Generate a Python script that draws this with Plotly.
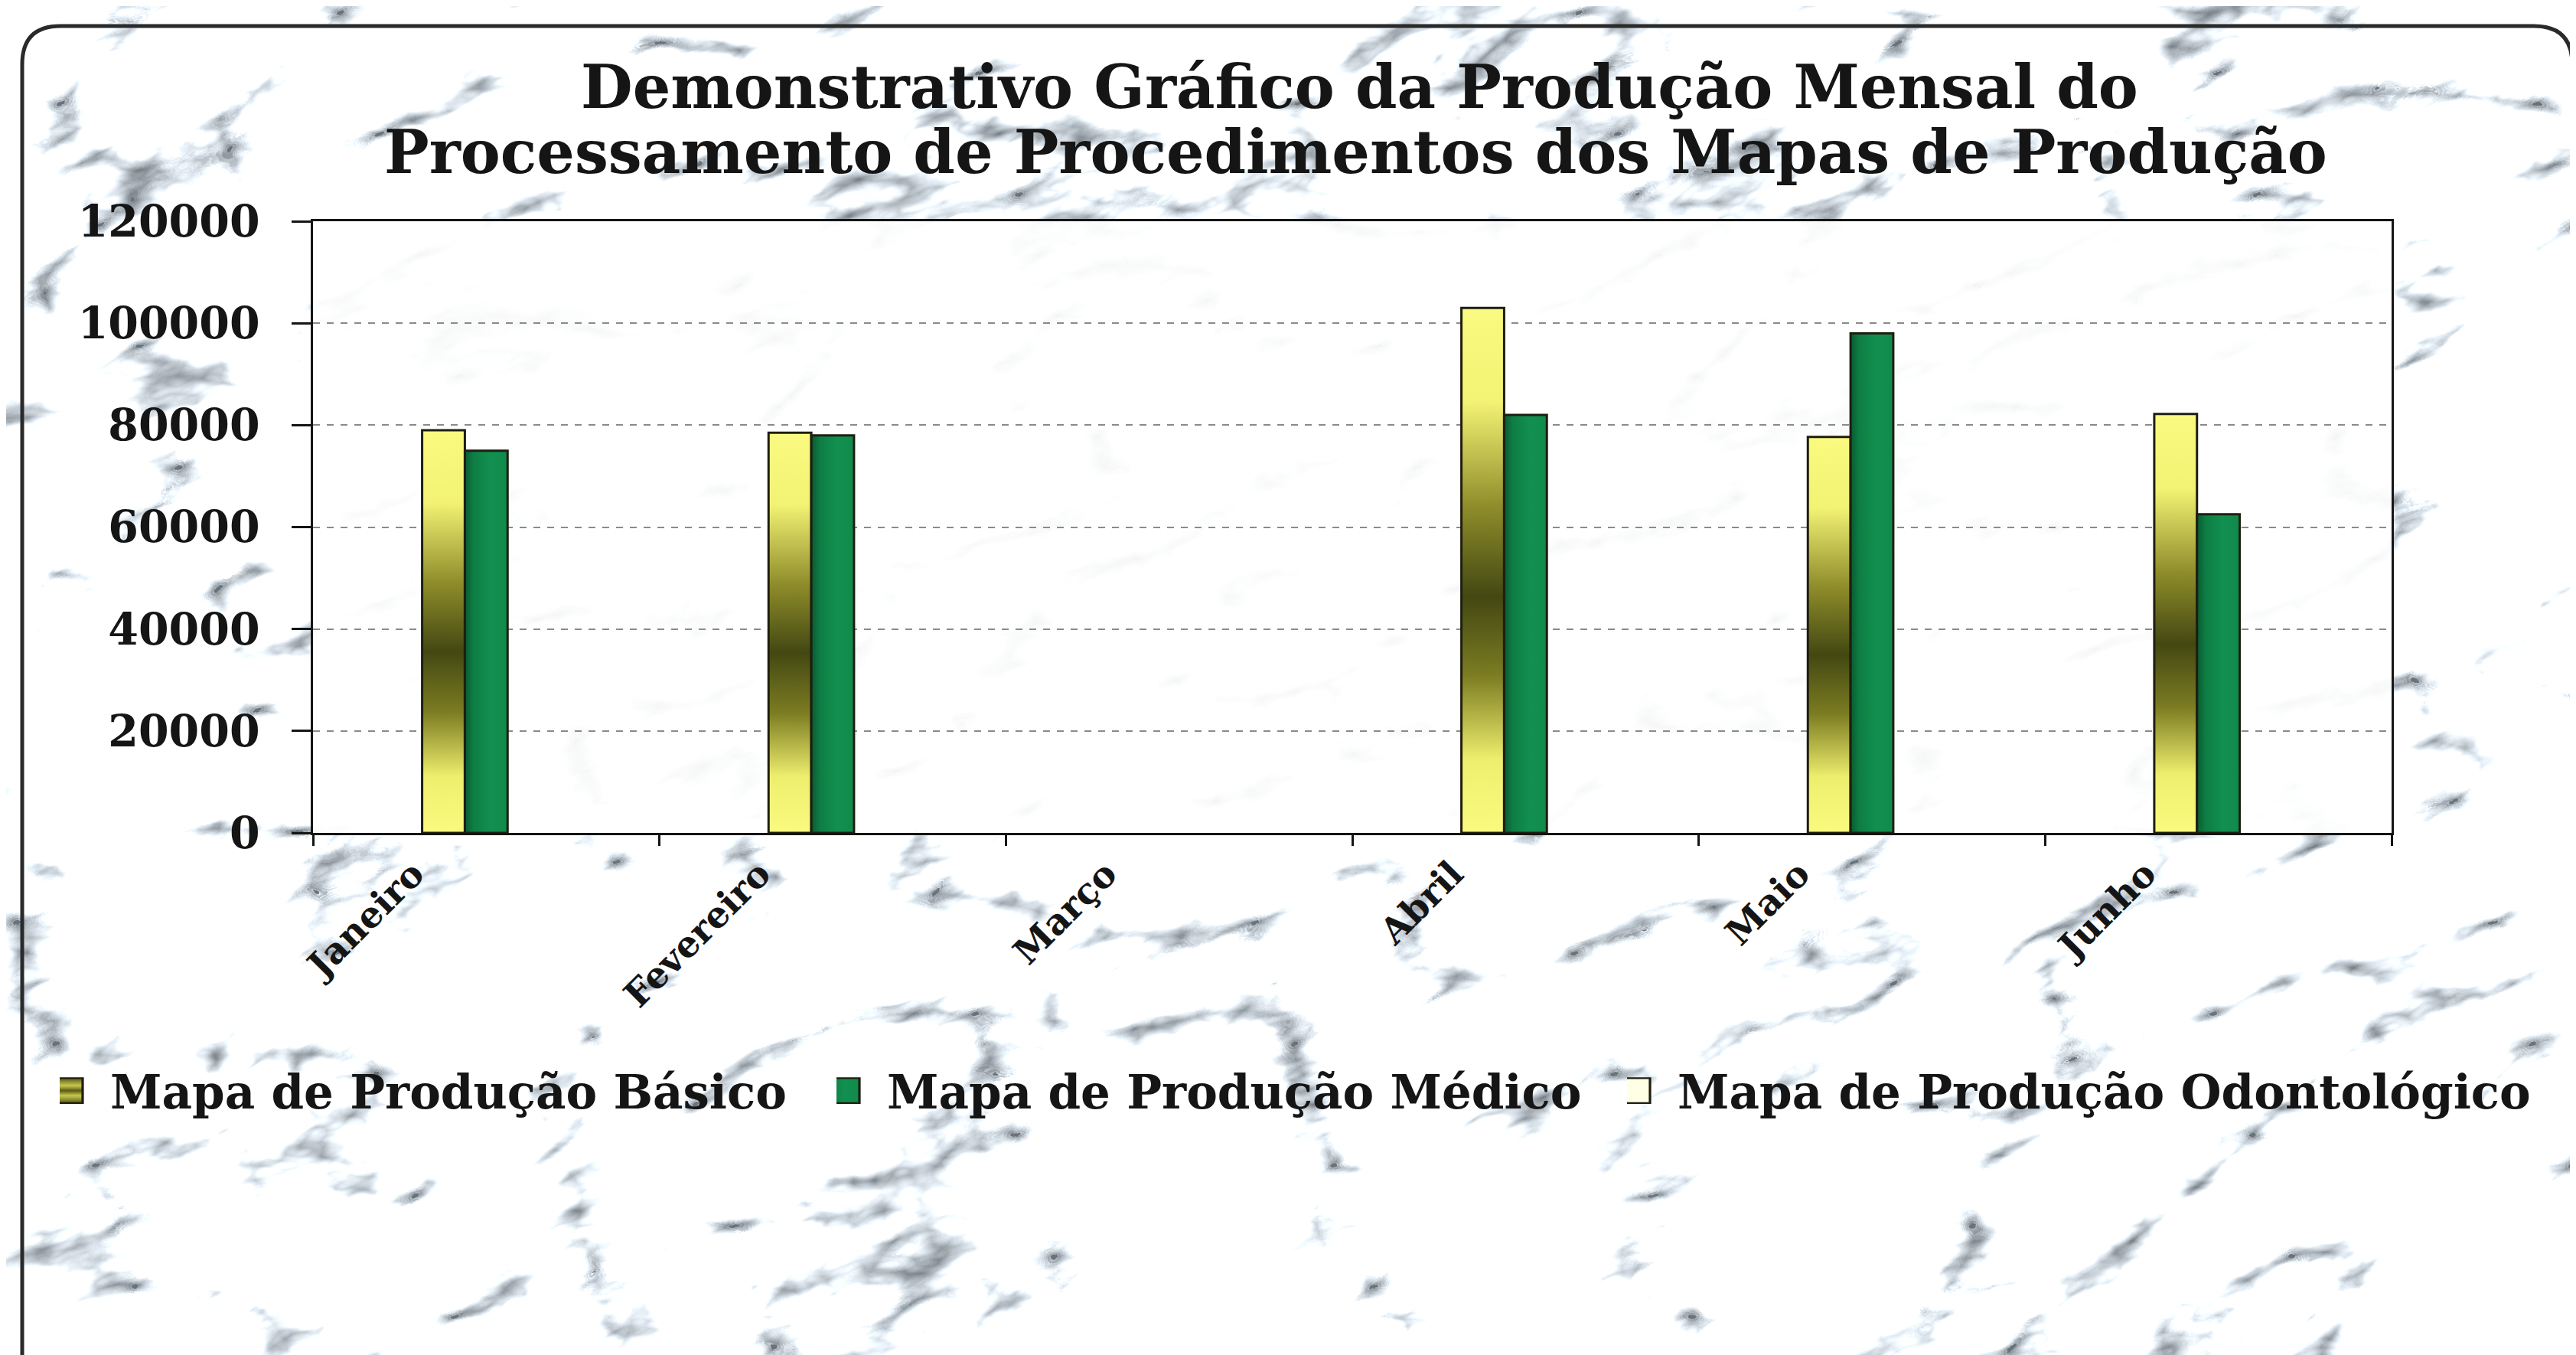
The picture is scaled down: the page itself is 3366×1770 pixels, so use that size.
import base64
import plotly.graph_objects as go

# ---------------- data ----------------
months = ["Janeiro", "Fevereiro", "Março", "Abril", "Maio", "Junho"]
basico = [79000, 78500, None, 103000, 77700, 82200]
medico = [75000, 78000, None, 82000, 98000, 62500]
odontologico = [None, None, None, None, None, None]
series_names = ["Mapa de Produção Básico", "Mapa de Produção Médico",
                "Mapa de Produção Odontológico"]
title_lines = ["Demonstrativo Gráfico da Produção Mensal do",
               "Processamento de Procedimentos dos Mapas de Produção"]
y_ticks = [0, 20000, 40000, 60000, 80000, 100000, 120000]
y_tick_labels = ["0", "20000", "40000", "60000", "80000", "100000", "120000"]

W, H = 3366, 1770
ML, MR, MT, MB = 401, 249, 281, 690
PW, PH = W - ML - MR, H - MT - MB

def xp(px):
    return (px - ML) / PW

def yp(py):
    return (H - MB - py) / PH

SERIF = "DejaVu Serif"
INK = "#151515"
EDGE = "#1e1e10"

fig = go.Figure()
fig.add_trace(go.Bar(name=series_names[0], x=months, y=basico, legend="legend",
                     marker=dict(color="#8a8a2a", line=dict(color=EDGE, width=3))))
fig.add_trace(go.Bar(name=series_names[1], x=months, y=medico, legend="legend2",
                     marker=dict(color="#10884a", line=dict(color=EDGE, width=3))))
fig.add_trace(go.Bar(name=series_names[2], x=months, y=odontologico, legend="legend3",
                     marker=dict(color="#ffffe6", line=dict(color=EDGE, width=3))))

# marble-like background texture (decorative)
marble_svg = f"""<svg xmlns='http://www.w3.org/2000/svg' width='{W}' height='{H}'>
<filter id='m' filterUnits='userSpaceOnUse' x='-2000' y='-2000' width='{W+4000}' height='{H+4000}' color-interpolation-filters='sRGB'>
<feTurbulence type='turbulence' baseFrequency='0.0026 0.0060' numOctaves='5' seed='41'/>
<feColorMatrix type='matrix' values='3.3 0 0 0 0.42  3.3 0 0 0 0.45  3.3 0 0 0 0.48  0 0 0 0 1'/>
</filter>
<rect width='100%' height='100%' fill='#ffffff'/>
<g transform='rotate(-18 {W/2} {H/2})'>
<rect x='-1500' y='-1500' width='{W+3000}' height='{H+3000}' filter='url(#m)'/>
</g>
</svg>"""
marble_uri = "data:image/svg+xml;base64," + base64.b64encode(marble_svg.encode()).decode()

fig.add_layout_image(dict(source=marble_uri, xref="paper", yref="paper",
                          x=xp(0), y=yp(0), sizex=W / PW, sizey=H / PH,
                          xanchor="left", yanchor="top", sizing="stretch",
                          layer="below", opacity=1))

# whitish plot-area wash over the marble
fig.add_shape(type="rect", xref="paper", yref="paper", x0=0, x1=1, y0=0, y1=1,
              fillcolor="rgba(255,255,255,0.93)", line=dict(width=0), layer="below")

# rounded outer frame
L, T, R, B, r = 21, 26, 3353, 1830, 50
path = (f"M {xp(L)} {yp(T + r)} "
        f"Q {xp(L)} {yp(T)} {xp(L + r)} {yp(T)} "
        f"L {xp(R - r)} {yp(T)} "
        f"Q {xp(R)} {yp(T)} {xp(R)} {yp(T + r)} "
        f"L {xp(R)} {yp(B)} L {xp(L)} {yp(B)} Z")
fig.add_shape(type="path", path=path, xref="paper", yref="paper",
              line=dict(color="#2a2a2a", width=5), fillcolor="rgba(0,0,0,0)", layer="above")

# two-line title as annotations (tight line spacing like the original)
for txt, cx, cy in [(title_lines[0], 1768, 105), (title_lines[1], 1763, 191)]:
    fig.add_annotation(text=txt, xref="paper", yref="paper", x=xp(cx), y=yp(cy),
                       xanchor="center", yanchor="middle", showarrow=False,
                       font=dict(family=SERIF, size=78, color=INK, weight="bold"))

legend_font = dict(family=SERIF, size=61, color=INK, weight="bold")
leg_common = dict(orientation="h", xanchor="left", yanchor="middle", y=yp(1417),
                  font=legend_font, bgcolor="rgba(0,0,0,0)", itemwidth=56,
                  borderwidth=0)

fig.update_layout(
    width=W, height=H,
    margin=dict(l=ML, r=MR, t=MT, b=MB),
    paper_bgcolor="#ffffff",
    plot_bgcolor="rgba(0,0,0,0)",
    barmode="group", bargap=0.63, bargroupgap=0,
    legend=dict(x=xp(70), **leg_common),
    legend2=dict(x=xp(1085), **leg_common),
    legend3=dict(x=xp(2118), **leg_common),
    showlegend=True,
)
fig.update_xaxes(type="category", tickson="boundaries", ticks="outside", ticklen=14,
                 tickwidth=3, tickcolor=INK, showline=True, linecolor=INK, linewidth=3,
                 mirror=True, tickangle=-45, ticklabelshift=-95, ticklabelstandoff=4,
                 tickfont=dict(family=SERIF, size=47, color=INK, weight="bold"),
                 showgrid=False)
fig.update_yaxes(range=[0, 120000], tickvals=y_ticks, ticktext=y_tick_labels,
                 ticks="outside", ticklen=25,
                 tickwidth=3, tickcolor=INK, showline=True, linecolor=INK, linewidth=3,
                 mirror=True, ticklabelstandoff=30,
                 tickfont=dict(family=SERIF, size=57, color=INK, weight="bold"),
                 showgrid=True, gridcolor="#8a8a8a", gridwidth=2, griddash="dash",
                 zeroline=False)

post = """
var gd = document.getElementById('{plot_id}');
function addGrad(defs, id, vertical, stops){
  var ns='http://www.w3.org/2000/svg';
  if (document.getElementById(id)) return;
  var lg=document.createElementNS(ns,'linearGradient');
  lg.setAttribute('id',id);
  lg.setAttribute('x1','0'); lg.setAttribute('y1','0');
  lg.setAttribute('x2', vertical ? '0' : '1'); lg.setAttribute('y2', vertical ? '1' : '0');
  stops.forEach(function(s){
    var st=document.createElementNS(ns,'stop');
    st.setAttribute('offset', s[0]); st.setAttribute('stop-color', s[1]);
    lg.appendChild(st);
  });
  defs.appendChild(lg);
}
function applyGrad(){
  var svg = gd.querySelector('svg.main-svg');
  var defs = svg.querySelector('defs');
  addGrad(defs,'gradBasico',true,[[0,'#fafa80'],[0.18,'#f2f274'],[0.38,'#8e8c2a'],[0.55,'#434812'],
                                   [0.7,'#7c7c22'],[0.86,'#eeee6e'],[1,'#fafa80']]);
  addGrad(defs,'gradLegB',true,[[0,'#5a5a14'],[0.3,'#c8c850'],[0.5,'#5a5a14'],[0.7,'#c8c850'],[1,'#5a5a14']]);
  addGrad(defs,'gradMedico',false,[[0,'#0a5a30'],[0.2,'#0e7d44'],[0.6,'#12904f'],[1,'#118a4c']]);
  var tr = gd.querySelectorAll('g.barlayer g.trace.bars');
  if (tr[0]) tr[0].querySelectorAll('path').forEach(function(p){p.style.fill='url(#gradBasico)';});
  if (tr[1]) tr[1].querySelectorAll('path').forEach(function(p){p.style.fill='url(#gradMedico)';});
  gd.querySelectorAll('g.traces').forEach(function(g){
    var name = (g.textContent || '');
    g.querySelectorAll('g.legendpoints path').forEach(function(p){
      p.setAttribute('transform','translate(6,0) scale(4.0,2.7)');
      p.style.strokeWidth='0.8px';
      if (name.indexOf('Básico')>=0) p.style.fill='url(#gradLegB)';
      if (name.indexOf('Médico')>=0) p.style.fill='url(#gradMedico)';
    });
  });
}
applyGrad();
gd.on('plotly_afterplot', applyGrad);
"""

fig.write_html("out.html", post_script=post)
